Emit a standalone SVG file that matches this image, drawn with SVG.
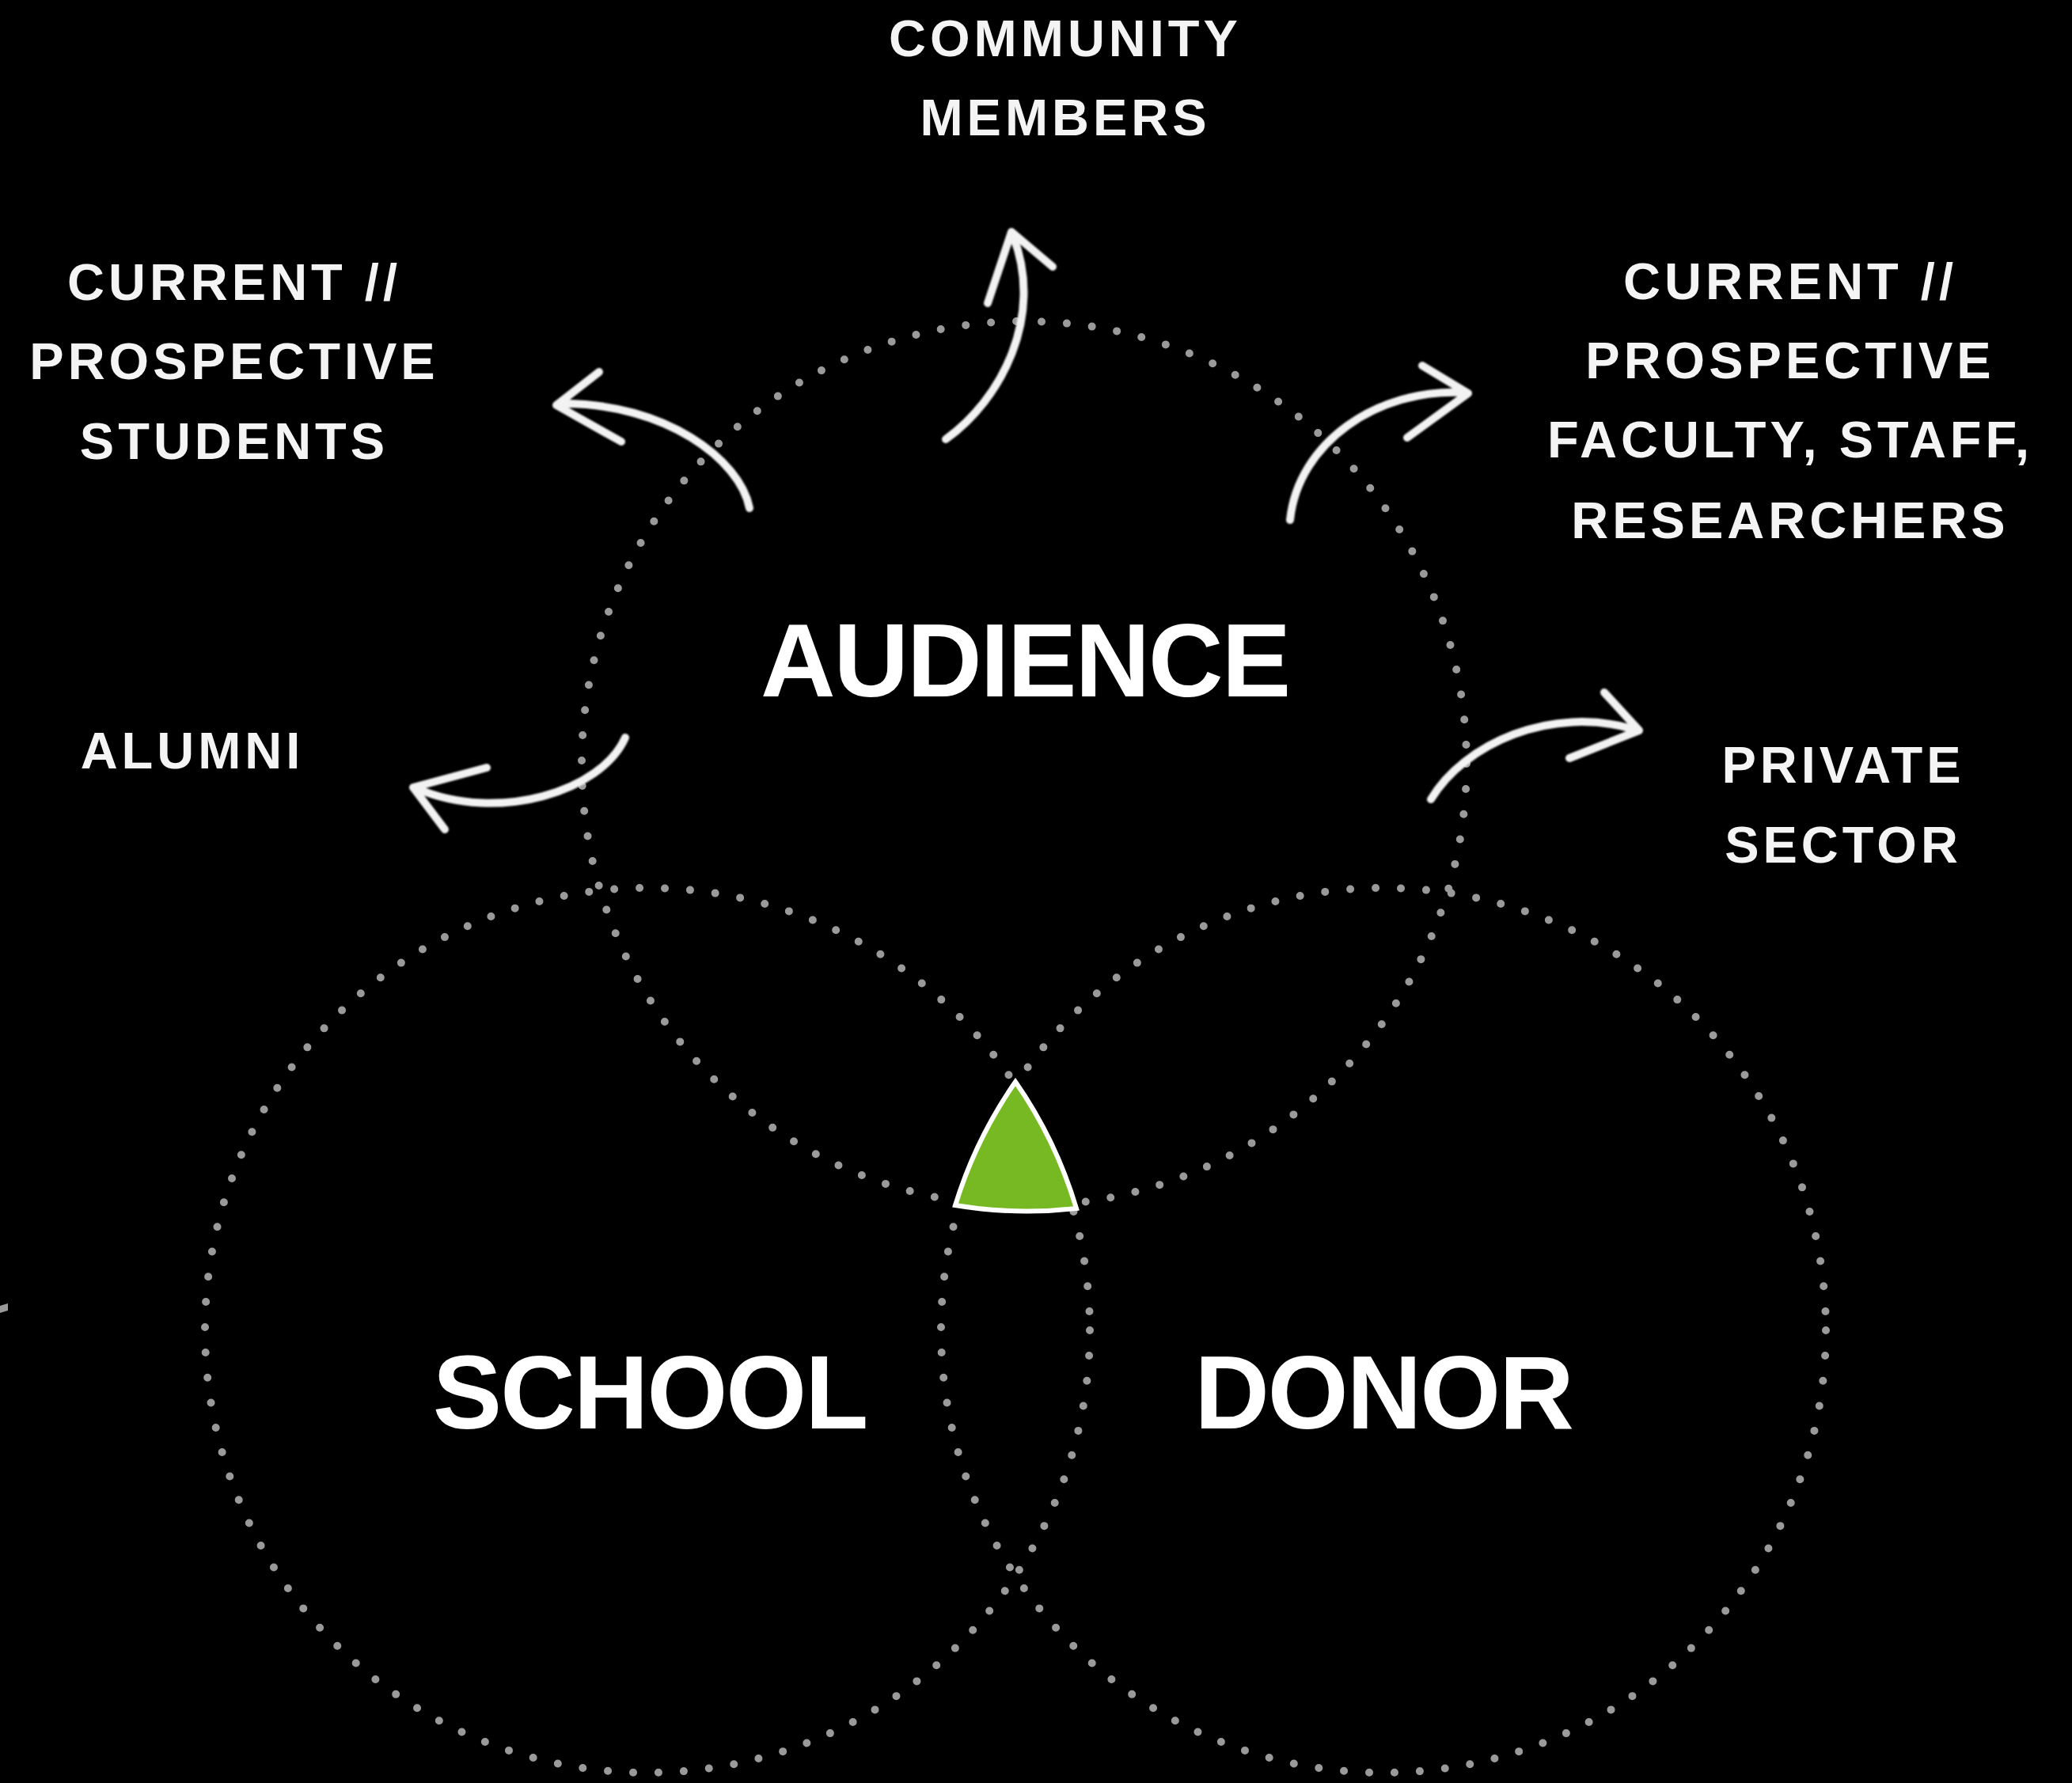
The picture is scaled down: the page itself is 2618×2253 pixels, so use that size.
<svg xmlns="http://www.w3.org/2000/svg" width="2618" height="2253" viewBox="0 0 2618 2253">
<defs>
<style>
.lbl{font-family:"Liberation Sans",Arial,Helvetica,sans-serif;font-weight:bold;font-size:65px;letter-spacing:5px;fill:#f4f4f4;text-anchor:middle}
.big{font-family:"Liberation Sans",Arial,Helvetica,sans-serif;font-weight:bold;font-size:131px;letter-spacing:-2px;fill:#ffffff;text-anchor:middle}
.dots{fill:none;stroke:#9a9a9a;stroke-width:10;stroke-dasharray:0 32;stroke-linecap:round}
.arr{fill:none;stroke:#f2f2f2;stroke-width:10;stroke-linecap:round;stroke-linejoin:round}
</style>
<filter id="soft" x="-10%" y="-10%" width="120%" height="120%"><feGaussianBlur stdDeviation="0.8"/></filter>
</defs>
<rect x="0" y="0" width="2618" height="2253" fill="#000000"/>
<g id="circles">
<circle id="audience-circle" class="dots" cx="1294" cy="965" r="559"/>
<circle id="school-circle" class="dots" cx="818" cy="1681" r="559"/>
<circle id="donor-circle" class="dots" cx="1748" cy="1681" r="559"/>
</g>
<g id="center-triangle">
<path d="M1283,1367 A559,559 0 0 1 1360,1527 A559,559 0 0 1 1207,1523 A559,559 0 0 1 1283,1367 Z" fill="#77b922" stroke="#ffffff" stroke-width="6" stroke-linejoin="miter"/>
</g>
<g id="connectors" filter="url(#soft)">
<path class="arr" d="M947,642 C935,580 840,510 712,510"/>
<path class="arr" d="M757,470 L703,512 L785,558"/>
<path class="arr" d="M1195,555 C1265,505 1320,400 1280,298"/>
<path class="arr" d="M1248,383 L1278,293 L1330,337"/>
<path class="arr" d="M1630,657 C1640,560 1740,490 1850,496"/>
<path class="arr" d="M1797,462 L1855,497 L1778,553"/>
<path class="arr" d="M1808,1010 C1850,940 1960,890 2066,922"/>
<path class="arr" d="M2027,875 L2071,923 L1983,958"/>
<path class="arr" d="M790,932 C760,1000 630,1040 528,997"/>
<path class="arr" d="M615,970 L522,995 L562,1048"/>
</g>
<g id="node-audience"><text class="big" x="1295" y="880">AUDIENCE</text></g>
<g id="node-school"><text class="big" x="821" y="1805">SCHOOL</text></g>
<g id="node-donor"><text class="big" x="1748" y="1805">DONOR</text></g>
<g id="node-community"><text class="lbl" x="1346" y="71">COMMUNITY</text><text class="lbl" x="1346" y="171">MEMBERS</text></g>
<g id="node-students"><text class="lbl" x="296" y="379">CURRENT //</text><text class="lbl" x="296" y="479">PROSPECTIVE</text><text class="lbl" x="296" y="580">STUDENTS</text></g>
<g id="node-faculty"><text class="lbl" x="2262" y="378">CURRENT //</text><text class="lbl" x="2262" y="478">PROSPECTIVE</text><text class="lbl" x="2262" y="578">FACULTY, STAFF,</text><text class="lbl" x="2262" y="680">RESEARCHERS</text></g>
<g id="node-alumni"><text class="lbl" x="243" y="971">ALUMNI</text></g>
<g id="node-private"><text class="lbl" x="2329" y="989">PRIVATE</text><text class="lbl" x="2329" y="1090">SECTOR</text></g>
<polygon points="0,1650 10,1647 10,1656 0,1659" fill="#9a9a9a"/>
</svg>
